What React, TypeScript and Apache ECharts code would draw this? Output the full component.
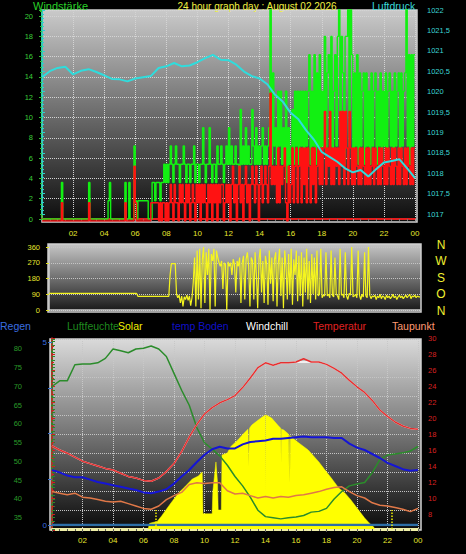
import React, { useEffect, useRef } from "react";
import * as echarts from "echarts";

// ---------- DATA ----------
// Top panel: wind, 5-minute samples from 00:00 to 24:00 (km/h)
const GUST: number[] = [
  0, 0, 0, 0, 0, 0, 0, 0, 0, 0, 0, 0, // 00
  0, 0, 0, 3.6, 0, 0, 0, 0, 0, 0, 0, 0, // 01
  0, 0, 0, 0, 0, 0, 0, 0, 0, 0, 0, 0, // 02
  3.6, 0, 0, 0, 0, 0, 0, 0, 0, 0, 0, 0, // 03
  0, 0, 0, 1.8, 3.6, 0, 0, 0, 0, 0, 0, 0, // 04
  0, 0, 0, 0, 3.6, 0, 0, 3.6, 0, 0, 0, 7.2, // 05
  1.8, 0, 1.8, 1.8, 1.8, 1.8, 1.8, 1.8, 1.8, 1.8, 0, 0, // 06
  0, 3.6, 3.6, 1.8, 3.6, 3.6, 3.6, 1.8, 3.6, 3.6, 5.4, 3.6, // 07
  5.4, 3.6, 5.4, 7.2, 5.4, 3.6, 5.4, 7.2, 5.4, 5.4, 3.6, 5.4, // 08
  5.4, 7.2, 5.4, 3.6, 5.4, 5.4, 3.6, 5.4, 5.4, 7.2, 3.6, 5.4, // 09
  5.4, 3.6, 5.4, 5.4, 9, 5.4, 3.6, 5.4, 5.4, 9, 5.4, 3.6, // 10
  5.4, 5.4, 3.6, 7.2, 5.4, 5.4, 7.2, 5.4, 3.6, 5.4, 7.2, 5.4, // 11
  9, 5.4, 7.2, 5.4, 5.4, 7.2, 5.4, 5.4, 3.6, 10.8, 5.4, 7.2, // 12
  5.4, 9, 5.4, 7.2, 5.4, 5.4, 10.8, 7.2, 5.4, 9, 5.4, 7.2, // 13
  5.4, 7.2, 9, 5.4, 7.2, 5.4, 7.2, 9, 21, 5.4, 14.4, 7.2, // 14
  9, 5.4, 12.6, 7.2, 12.6, 5.4, 9, 5.4, 12.6, 3.6, 9, 5.4, // 15
  7.2, 10.8, 5.4, 12.6, 7.2, 12.6, 5.4, 12.6, 7.2, 12.6, 5.4, 12.6, // 16
  7.2, 12.6, 16.2, 5.4, 12.6, 7.2, 16.2, 5.4, 14.4, 7.2, 16.2, 5.4, // 17
  12.6, 7.2, 18, 5.4, 14.4, 16.2, 7.2, 18, 5.4, 12.6, 16.2, 7.2, // 18
  18, 21, 7.2, 18, 14.4, 5.4, 18, 18, 21, 7.2, 21, 16.2, // 19
  5.4, 14.4, 7.2, 16.2, 5.4, 14.4, 7.2, 12.6, 14.4, 5.4, 14.4, 7.2, // 20
  12.6, 5.4, 14.4, 7.2, 12.6, 14.4, 5.4, 12.6, 7.2, 14.4, 5.4, 12.6, // 21
  7.2, 14.4, 5.4, 12.6, 14.4, 7.2, 12.6, 5.4, 14.4, 7.2, 12.6, 14.4, // 22
  5.4, 14.4, 7.2, 12.6, 14.4, 21, 7.2, 16.2, 5.4, 16.2, 7.2, 16.2, // 23
  16.2,
];

const AVG: number[] = [
  0, 0, 0, 0, 0, 0, 0, 0, 0, 0, 0, 0, // 00
  0, 0, 0, 1.8, 0, 0, 0, 0, 0, 0, 0, 0, // 01
  0, 0, 0, 0, 0, 0, 0, 0, 0, 0, 0, 0, // 02
  1.8, 0, 0, 0, 0, 0, 0, 0, 0, 0, 0, 0, // 03
  0, 0, 0, 0, 0, 0, 0, 0, 0, 0, 0, 0, // 04
  0, 0, 0, 0, 1.8, 0, 0, 0, 0, 0, 0, 5.4, // 05
  1.8, 0, 0, 0, 0, 0, 0, 0, 0, 0, 0, 0, // 06
  1.8, 1.8, 1.8, 1.8, 1.8, 1.8, 0, 1.8, 0, 1.8, 1.8, 0, // 07
  1.8, 0, 1.8, 3.6, 1.8, 0, 3.6, 1.8, 1.8, 0, 3.6, 1.8, // 08
  3.6, 1.8, 0, 3.6, 1.8, 3.6, 0, 1.8, 3.6, 1.8, 0, 3.6, // 09
  1.8, 3.6, 0, 3.6, 1.8, 3.6, 1.8, 0, 3.6, 1.8, 3.6, 0, // 10
  3.6, 1.8, 3.6, 0, 3.6, 1.8, 3.6, 3.6, 0, 1.8, 3.6, 1.8, // 11
  3.6, 0, 3.6, 5.4, 1.8, 3.6, 0, 3.6, 5.4, 1.8, 3.6, 0, // 12
  3.6, 5.4, 1.8, 3.6, 0, 3.6, 5.4, 3.6, 1.8, 5.4, 3.6, 0, // 13
  3.6, 5.4, 1.8, 3.6, 5.4, 3.6, 1.8, 5.4, 12.6, 3.6, 5.4, 3.6, // 14
  5.4, 1.8, 7.2, 1.8, 5.4, 3.6, 5.4, 7.2, 1.8, 0, 5.4, 1.8, // 15
  3.6, 7.2, 1.8, 5.4, 7.2, 1.8, 5.4, 7.2, 1.8, 7.2, 3.6, 7.2, // 16
  1.8, 7.2, 5.4, 1.8, 7.2, 3.6, 7.2, 1.8, 5.4, 7.2, 3.6, 7.2, // 17
  3.6, 7.2, 10.8, 3.6, 7.2, 5.4, 10.8, 3.6, 7.2, 3.6, 7.2, 5.4, // 18
  7.2, 3.6, 10.8, 5.4, 10.8, 3.6, 10.8, 7.2, 3.6, 10.8, 7.2, 3.6, // 19
  7.2, 3.6, 7.2, 5.4, 3.6, 7.2, 3.6, 7.2, 5.4, 3.6, 7.2, 3.6, // 20
  7.2, 3.6, 5.4, 7.2, 3.6, 7.2, 5.4, 3.6, 7.2, 3.6, 7.2, 5.4, // 21
  3.6, 7.2, 3.6, 7.2, 5.4, 3.6, 7.2, 3.6, 7.2, 5.4, 3.6, 7.2, // 22
  3.6, 7.2, 5.4, 3.6, 7.2, 3.6, 7.2, 5.4, 3.6, 7.2, 3.6, 7.2, // 23
  7.2,
];

// Air pressure, 30-minute samples (hPa)
const PRESSURE: number[] = [
  1020.35, 1020.5, 1020.58, 1020.61, 1020.42, 1020.51, 1020.55, 1020.48, 1020.4, 1020.31,
  1020.3, 1020.25, 1020.32, 1020.35, 1020.38, 1020.58, 1020.62, 1020.7, 1020.62, 1020.64,
  1020.72, 1020.82, 1020.9, 1020.78, 1020.77, 1020.66, 1020.49, 1020.38, 1020.32, 1020.18,
  1019.92, 1019.75, 1019.48, 1019.32, 1019.05, 1018.82, 1018.52, 1018.4, 1018.28, 1018.12,
  1018.02, 1018.08, 1017.92, 1018.1, 1018.26, 1018.3, 1018.34, 1018.12, 1017.88,
];

// Wind direction, 5-minute samples (degrees)
const DIRECTION: number[] = [
  95, 95, 95, 95, 95, 95, 95, 95, 95, 95, 95, 95, // 00
  95, 95, 95, 95, 95, 95, 95, 95, 95, 95, 95, 95, // 01
  95, 95, 95, 95, 95, 95, 95, 95, 95, 95, 95, 95, // 02
  95, 95, 95, 95, 95, 95, 95, 95, 95, 95, 95, 95, // 03
  95, 95, 95, 95, 95, 95, 95, 95, 95, 95, 95, 95, // 04
  95, 95, 95, 95, 95, 95, 95, 95, 95, 78, 78, 78, // 05
  78, 78, 78, 78, 78, 78, 78, 78, 78, 78, 78, 78, // 06
  78, 78, 78, 78, 78, 78, 78, 78, 78, 78, 200, 265, // 07
  265, 265, 265, 90, 70, 85, 40, 80, 20, 75, 60, 85, // 08
  55, 80, 25, 70, 160, 300, 20, 340, 60, 350, 10, 290, // 09
  360, 40, 330, 200, 350, 0, 320, 280, 350, 20, 340, 300, // 10
  270, 250, 280, 120, 270, 260, 0, 275, 250, 270, 200, 290, // 11
  260, 100, 280, 250, 300, 40, 270, 310, 60, 290, 330, 250, // 12
  20, 300, 280, 60, 330, 200, 10, 290, 350, 100, 280, 40, // 13
  310, 260, 30, 340, 150, 300, 50, 290, 330, 20, 270, 350, // 14
  80, 300, 10, 340, 250, 60, 320, 90, 350, 30, 290, 200, // 15
  340, 50, 310, 80, 330, 20, 300, 100, 350, 60, 280, 40, // 16
  320, 90, 300, 60, 340, 80, 90, 350, 70, 85, 80, 330, // 17
  80, 90, 70, 340, 85, 75, 300, 90, 80, 60, 350, 85, // 18
  90, 70, 330, 80, 60, 95, 85, 360, 75, 80, 90, 70, // 19
  340, 85, 60, 90, 75, 330, 80, 70, 360, 85, 65, 80, // 20
  75, 85, 60, 80, 70, 90, 65, 80, 75, 60, 85, 70, // 21
  80, 65, 75, 90, 70, 80, 60, 75, 85, 70, 80, 65, // 22
  75, 85, 70, 80, 90, 65, 80, 75, 85, 70, 80, 75, // 23
  75,
];

// Bottom panel, 30-minute samples
const HUMIDITY: number[] = [
  70, 71.5, 71.5, 75.8, 76, 76, 76.3, 77.5, 80, 79.5,
  79, 80, 80.2, 80.8, 80, 78, 73.5, 69, 65, 59,
  55, 53.3, 51.5, 49, 46, 43.5, 40.5, 37, 35.3, 35,
  34.7, 35, 35.2, 35.6, 36.5, 36.7, 37.5, 40, 42, 43.5,
  44, 44.4, 47, 50.5, 51.7, 52, 52.3, 52.8, 54,
];
const TEMPERATURE: number[] = [
  16.5, 16.0, 15.6, 15.1, 14.6, 14.3, 14.0, 13.7, 13.5, 13.1,
  12.7, 12.5, 12.2, 12.1, 12.5, 13.3, 14.3, 15.8, 17.6, 19.2,
  20.5, 21.3, 21.9, 22.3, 22.8, 23.8, 25.0, 26.3, 26.9, 26.6,
  26.9, 26.9, 27.0, 27.4, 27.0, 27.0, 26.7, 26.2, 25.6, 24.7,
  23.9, 23.2, 22.2, 21.0, 20.2, 19.5, 19.0, 18.7, 18.6,
];
const WINDCHILL: number[] = [
  16.5, 16.0, 15.6, 15.1, 14.6, 14.3, 14.0, 13.7, 13.5, 13.1,
  12.7, 12.5, 12.2, 12.1, 12.5, 13.3, 14.3, 15.8, 17.6, 19.2,
  20.5, 21.3, 21.9, 22.3, 22.8, 23.8, 25.0, 26.3, 26.9, 26.6,
  26.9, 26.9, 27.0, 27.0, 27.0, 27.0, 26.7, 26.2, 25.6, 24.7,
  23.9, 23.2, 22.2, 21.0, 20.2, 19.5, 19.0, 18.7, 18.6,
];
const SOIL_TEMP: number[] = [
  13.5, 13.2, 12.8, 12.6, 12.6, 12.3, 12.0, 11.8, 11.6, 11.4,
  11.2, 11.0, 10.7, 10.6, 10.8, 11.1, 11.8, 12.7, 13.5, 14.5,
  15.4, 16.1, 16.4, 16.2, 16.2, 16.7, 17.0, 17.1, 17.2, 17.4,
  17.4, 17.5, 17.6, 17.7, 17.6, 17.6, 17.6, 17.5, 17.5, 16.8,
  16.3, 16.0, 15.5, 15.0, 14.4, 14.0, 13.6, 13.4, 13.5,
];
const DEWPOINT: number[] = [
  10.8, 10.6, 10.4, 10.6, 10.1, 10.0, 9.8, 9.6, 9.5, 9.6,
  9.3, 9.0, 8.7, 8.6, 9.0, 9.8, 10.3, 10.7, 11.7, 11.9,
  11.8, 11.9, 11.9, 10.9, 10.5, 10.6, 10.3, 10.0, 10.2, 10.0,
  10.2, 10.1, 10.3, 10.4, 10.6, 10.8, 11.1, 11.3, 11.4, 10.8,
  10.3, 10.0, 9.4, 9.1, 9.0, 8.8, 8.6, 8.3, 8.7,
];
const RAIN: number[] = [0, 0, 0, 0, 0, 0, 0, 0, 0, 0, 0, 0, 0, 0, 0, 0, 0, 0, 0, 0, 0, 0, 0, 0, 0];

// Solar radiation (W/m²) at given hours
const SOLAR_T: number[] = [
  6.3, 6.4, 6.9, 7.2, 7.8, 8.3, 8.7, 9.2, 9.6, 9.85, 9.9, 10.5, 10.55, 10.75, 10.85, 10.9,
  11.1, 11.15, 11.5, 11.7, 12.2, 12.6, 12.85, 12.9, 12.95, 13.1, 13.7, 13.98, 14.0, 14.03,
  14.4, 14.8, 15.0, 15.02, 15.05, 15.2, 15.5, 15.52, 15.55, 15.6, 15.63, 16.1, 16.8, 17.5,
  17.9, 18.3, 18.8, 19.2, 19.6, 20.1, 20.5, 20.8, 21.1, 21.15,
];
const SOLAR_V: number[] = [
  0, 30, 40, 70, 137, 190, 221, 263, 279, 300, 80, 80, 200, 353, 250, 100,
  100, 390, 400, 432, 470, 505, 525, 330, 530, 547, 584, 600, 195, 600,
  584, 547, 530, 347, 525, 521, 500, 326, 495, 242, 490, 458, 416, 353,
  311, 270, 216, 190, 153, 100, 58, 32, 10, 0,
];
const SUN_MARKS: number[] = [6.8, 22.3];

// Labels
const TITLE = "24 hour graph day : August 02 2026";
const COMPASS = ["N", "W", "S", "O", "N"];
const LEGEND = [
  { text: "Regen", color: "#3a6fe0", x: 0 },
  { text: "Luftfeuchte", color: "#1f8a1f", x: 67 },
  { text: "Solar", color: "#f2f200", x: 118 },
  { text: "temp Boden", color: "#1010c8", x: 172 },
  { text: "Windchill", color: "#ffffff", x: 246 },
  { text: "Temperatur", color: "#e02222", x: 313 },
  { text: "Taupunkt", color: "#ff9a72", x: 392 },
];

// ---------- HELPERS ----------
const FONT = "'Liberation Sans', Arial, Helvetica, sans-serif";
const everyFive = (a: number[]) => a.map((v, i) => [i / 12, v]);
const everyHalf = (a: number[]) => a.map((v, i) => [i / 2, v]);
const hourLabel = (v: number) => {
  if (v === 0) return "";
  const h = Math.round(v) % 24;
  return h < 10 ? "0" + h : String(h);
};
const grad = (top: string, mid: string, bottom: string) => ({
  type: "linear",
  x: 0,
  y: 0,
  x2: 0,
  y2: 1,
  colorStops: [
    { offset: 0, color: top },
    { offset: 0.5, color: mid },
    { offset: 1, color: bottom },
  ],
});
const dotted = (c: string) => ({ show: true, lineStyle: { color: c, type: "dotted", width: 1 } });
const hiddenX = (gridIndex: number) => ({ gridIndex, type: "value", min: 0, max: 24, show: false });
const txt = (text: string, x: number, y: number, fill: string, size: number, align = "left") => ({
  type: "text",
  x,
  y,
  silent: true,
  style: {
    text,
    fill,
    fontSize: size,
    fontFamily: FONT,
    align,
    verticalAlign: "middle",
    textAlign: align,
    textVerticalAlign: "middle",
  },
});

function buildOption(): any {
  const lineBase = { type: "line", showSymbol: false, symbol: "none", silent: true };
  return {
    animation: false,
    backgroundColor: "#000000",
    textStyle: { fontFamily: FONT },
    grid: [
      { left: 42, top: 10, width: 373, height: 209 },
      { left: 42, top: 12, width: 373, height: 209 },
      { left: 42, top: 10, width: 373, height: 204 },
      { left: 49, top: 247, width: 371, height: 63 },
      { left: 52, top: 339, width: 366, height: 190 },
      { left: 52, top: 342, width: 366, height: 183 },
      { left: 52, top: 338, width: 366, height: 192 },
    ],
    xAxis: [
      {
        gridIndex: 0,
        type: "value",
        min: 0,
        max: 24,
        interval: 2,
        offset: 3,
        axisLine: { show: true, lineStyle: { color: "#e01e1e", width: 2 } },
        axisTick: { show: true, length: 2, lineStyle: { color: "#9a9a9a" } },
        minorTick: { show: true, splitNumber: 4, length: 2, lineStyle: { color: "#777777" } },
        axisLabel: { color: "#e6e62e", fontSize: 8, margin: 7, formatter: hourLabel, fontFamily: FONT },
        splitLine: dotted("#d4d4d4"),
      },
      hiddenX(1),
      hiddenX(2),
      {
        gridIndex: 3,
        type: "value",
        min: 0,
        max: 24,
        offset: 2,
        axisLine: { show: true, lineStyle: { color: "#cfcfcf", width: 1.5 } },
        axisTick: { show: false },
        axisLabel: { show: false },
        splitLine: { show: false },
      },
      {
        gridIndex: 4,
        type: "value",
        min: 0,
        max: 24,
        interval: 2,
        axisLine: { show: true, lineStyle: { color: "#eeeea6", width: 3 } },
        axisTick: { show: true, length: 3, lineStyle: { color: "#555555" } },
        minorTick: { show: true, splitNumber: 4, length: 2, lineStyle: { color: "#555555" } },
        axisLabel: { color: "#e6e62e", fontSize: 8, margin: 7, formatter: hourLabel, fontFamily: FONT },
        splitLine: dotted("#c8c8c8"),
      },
      hiddenX(5),
      hiddenX(6),
    ],
    yAxis: [
      {
        gridIndex: 0,
        type: "value",
        min: 0,
        max: 20.6,
        interval: 2,
        position: "left",
        offset: 2,
        axisLine: { show: true, lineStyle: { color: "#2fc02f", width: 1.5 } },
        axisTick: { show: true, length: 3, lineStyle: { color: "#2fc02f" } },
        minorTick: { show: true, splitNumber: 4, length: 2, lineStyle: { color: "#2fc02f" } },
        axisLabel: {
          color: "#3ad03a",
          fontSize: 7.5,
          margin: 7,
          fontFamily: FONT,
          formatter: (v: number) => (Math.abs(v % 2) < 1e-6 ? String(v) : ""),
        },
        splitLine: dotted("#d4d4d4"),
      },
      { gridIndex: 1, type: "value", min: 0, max: 20.6, show: false },
      {
        gridIndex: 2,
        type: "value",
        min: 1017,
        max: 1022,
        interval: 0.5,
        position: "right",
        offset: 3,
        axisLine: { show: true, lineStyle: { color: "#2ed0d0", width: 1.5 } },
        axisTick: { show: true, length: 3, lineStyle: { color: "#2ed0d0" } },
        minorTick: { show: true, splitNumber: 5, length: 2, lineStyle: { color: "#2ed0d0" } },
        axisLabel: {
          color: "#3cd4d4",
          fontSize: 7.5,
          margin: 9,
          fontFamily: FONT,
          formatter: (v: number) => String(v).replace(".", ","),
        },
        splitLine: { show: false },
      },
      {
        gridIndex: 3,
        type: "value",
        min: 0,
        max: 360,
        interval: 90,
        position: "left",
        offset: 1,
        axisLine: { show: true, lineStyle: { color: "#d0d0d0", width: 1.5 } },
        axisTick: { show: true, length: 3, lineStyle: { color: "#e0e020" } },
        axisLabel: { color: "#e6e62e", fontSize: 7.5, margin: 8, fontFamily: FONT },
        splitLine: dotted("#c4c4c4"),
      },
      {
        gridIndex: 4,
        type: "value",
        min: 32,
        max: 82.66,
        interval: 1,
        position: "left",
        offset: 22,
        axisLine: { show: true, lineStyle: { color: "#2a8a2a", width: 2 } },
        axisTick: { show: true, inside: true, length: 3, lineStyle: { color: "#2a8a2a" } },
        axisLabel: {
          color: "#2a9a2a",
          fontSize: 7.5,
          margin: 8,
          fontFamily: FONT,
          formatter: (v: number) => (Math.abs(v % 5) < 1e-6 ? String(v) : ""),
        },
        splitLine: { show: false },
      },
      {
        gridIndex: 4,
        type: "value",
        min: 0,
        max: 1000,
        interval: 100,
        position: "right",
        axisLine: { show: false },
        axisTick: { show: false },
        axisLabel: { show: false },
        splitLine: dotted("#c4c4c4"),
      },
      {
        gridIndex: 5,
        type: "value",
        min: 0,
        max: 5,
        interval: 1.25,
        position: "left",
        offset: 4,
        axisLine: { show: false },
        axisTick: { show: true, length: 4, lineStyle: { color: "#3a70d0" } },
        axisLabel: {
          color: "#3a70e0",
          fontSize: 8,
          margin: 1,
          fontFamily: FONT,
          formatter: (v: number) => (v === 0 || v === 5 ? String(v) : ""),
        },
        splitLine: { show: false },
      },
      {
        gridIndex: 6,
        type: "value",
        min: 6,
        max: 30,
        interval: 2,
        position: "right",
        offset: 4,
        axisLine: { show: true, lineStyle: { color: "#d02020", width: 1.5, type: "dashed" } },
        axisTick: { show: true, length: 3, lineStyle: { color: "#d02020" } },
        minorTick: { show: true, splitNumber: 2, length: 2, lineStyle: { color: "#d02020" } },
        axisLabel: { color: "#d82020", fontSize: 7.5, margin: 6, showMinLabel: false, fontFamily: FONT },
        splitLine: { show: false },
      },
    ],
    series: [
      {
        ...lineBase,
        name: "Böen",
        xAxisIndex: 0,
        yAxisIndex: 0,
        step: "end",
        data: everyFive(GUST),
        lineStyle: { color: "#12f012", width: 1.4 },
        z: 2,
      },
      {
        ...lineBase,
        name: "Wind",
        xAxisIndex: 1,
        yAxisIndex: 1,
        step: "end",
        data: everyFive(AVG),
        lineStyle: { color: "#ff1212", width: 1.4 },
        z: 3,
      },
      {
        ...lineBase,
        name: "Luftdruck",
        xAxisIndex: 2,
        yAxisIndex: 2,
        data: everyHalf(PRESSURE),
        lineStyle: { color: "#30dcdc", width: 2 },
        z: 4,
      },
      {
        ...lineBase,
        name: "Windrichtung",
        xAxisIndex: 3,
        yAxisIndex: 3,
        data: everyFive(DIRECTION),
        lineStyle: { color: "#f5f51e", width: 1.2 },
        z: 3,
      },
      {
        ...lineBase,
        name: "Solar",
        xAxisIndex: 4,
        yAxisIndex: 5,
        data: SOLAR_T.map((t, i) => [t, SOLAR_V[i]]),
        lineStyle: { color: "#ffff00", width: 0.5 },
        areaStyle: { color: "#ffff00", opacity: 1 },
        z: 1,
        markLine: {
          silent: true,
          symbol: ["none", "none"],
          label: { show: false },
          lineStyle: { color: "#f0f000", type: "dotted", width: 1.5 },
          data: SUN_MARKS.map((t) => [{ coord: [t, 0] }, { coord: [t, 100] }]),
        },
      },
      {
        ...lineBase,
        name: "Luftfeuchte",
        xAxisIndex: 4,
        yAxisIndex: 4,
        data: everyHalf(HUMIDITY),
        lineStyle: { color: "#2b8c2b", width: 1.5 },
        z: 4,
      },
      {
        ...lineBase,
        name: "Regen",
        xAxisIndex: 5,
        yAxisIndex: 6,
        data: RAIN.map((v, i) => [i, v]),
        lineStyle: { color: "#2d6ea6", width: 2.5 },
        z: 4,
      },
      {
        ...lineBase,
        name: "Windchill",
        xAxisIndex: 6,
        yAxisIndex: 7,
        data: everyHalf(WINDCHILL),
        lineStyle: { color: "#ffffff", width: 1.5 },
        z: 4,
      },
      {
        ...lineBase,
        name: "temp Boden",
        xAxisIndex: 6,
        yAxisIndex: 7,
        data: everyHalf(SOIL_TEMP),
        lineStyle: { color: "#1515d5", width: 2 },
        z: 5,
      },
      {
        ...lineBase,
        name: "Temperatur",
        xAxisIndex: 6,
        yAxisIndex: 7,
        data: everyHalf(TEMPERATURE),
        lineStyle: { color: "#e53030", width: 1.5 },
        z: 5,
      },
      {
        ...lineBase,
        name: "Taupunkt",
        xAxisIndex: 6,
        yAxisIndex: 7,
        data: everyHalf(DEWPOINT),
        lineStyle: { color: "#e07848", width: 1.5 },
        z: 5,
      },
    ],
    graphic: {
      elements: [
        {
          type: "rect",
          z: -1,
          silent: true,
          shape: { x: 42, y: 10, width: 375, height: 212 },
          style: { fill: grad("#cacaca", "#6a6a6a", "#0c0c0c"), stroke: "#d0d0d0", lineWidth: 1.5 },
        },
        {
          type: "rect",
          z: -1,
          silent: true,
          shape: { x: 48, y: 244, width: 373, height: 68 },
          style: { fill: grad("#c6c6c6", "#707070", "#161616"), stroke: "#cfcfcf", lineWidth: 1.5 },
        },
        {
          type: "rect",
          z: -1,
          silent: true,
          shape: { x: 50, y: 339, width: 371, height: 191 },
          style: { fill: grad("#dadada", "#747474", "#0a0a0a"), stroke: "#d4d4d4", lineWidth: 1.5 },
        },
        txt("Windstärke", 33, 6, "#28d028", 11),
        txt(TITLE, 257, 6, "#f0f040", 10, "center"),
        txt("Luftdruck", 372, 6, "#38d8d8", 10.5),
        ...COMPASS.map((c, i) => txt(c, 441, 245 + i * 16.4, "#f0f030", 12, "center")),
        ...LEGEND.map((l) => txt(l.text, l.x, 326, l.color, 10.5)),
      ],
    },
  };
}

export default function App() {
  const ref = useRef<HTMLDivElement>(null);
  useEffect(() => {
    if (!ref.current) return;
    const chart = echarts.init(ref.current, undefined, { renderer: "svg" });
    chart.setOption(buildOption());
    return () => {
      chart.dispose();
    };
  }, []);
  return (
    <div
      ref={ref}
      style={{ position: "fixed", left: 0, top: 0, width: 466, height: 554, background: "#000" }}
    />
  );
}
